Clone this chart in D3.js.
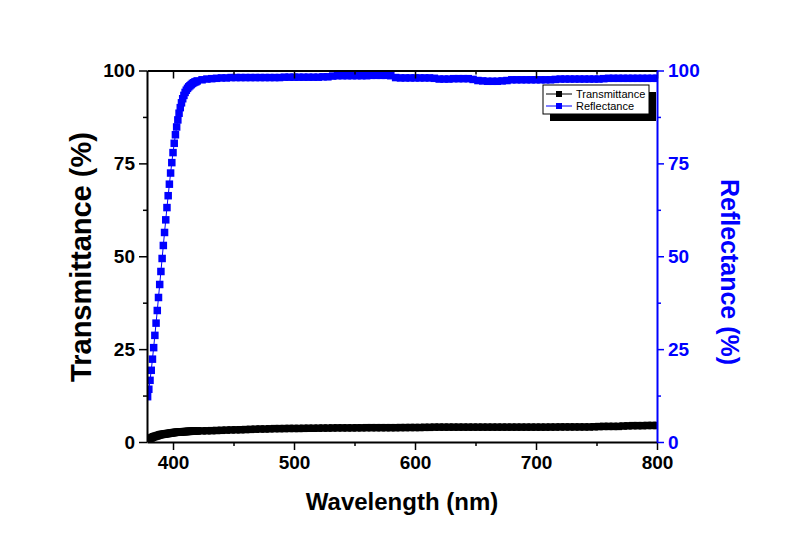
<!DOCTYPE html>
<html><head><meta charset="utf-8">
<script src="https://cdn.jsdelivr.net/npm/d3@7"></script>
<style>body{margin:0;background:#fff}svg{display:block}</style>
</head><body><svg id="c" width="799" height="535"></svg>
<script>
// ---- data ----
const wavelength = [
 379,380,381,382,383,384,385,386,387,388,389,390,391,392,393,394,395,396,397,398,
 399,400,401,402,403,404,405,406,407,408,409,410,411,412,413,414,415,416,417,418,419,420,
 424,428,432,436,440,444,448,452,456,460,
 464,468,472,476,480,484,488,492,496,500,
 504,508,512,516,520,524,528,532,536,540,
 544,548,552,556,560,564,568,572,576,580,
 584,588,592,596,600,604,608,612,616,620,
 624,628,632,636,640,644,648,652,656,660,
 664,668,672,676,680,684,688,692,696,700,
 704,708,712,716,720,724,728,732,736,740,
 744,748,752,756,760,764,768,772,776,780,
 784,788,792,796,800];
const reflectance = [
 12.2,14.2,16.6,19.3,22.3,25.4,28.7,32.0,35.4,38.9,42.4,45.9,49.4,52.9,56.4,59.8,63.1,66.3,69.4,72.4,
 75.2,77.9,80.4,82.7,84.8,86.7,88.5,90.0,91.3,92.4,93.3,94.1,94.7,95.2,95.6,95.9,96.2,96.5,96.7,96.9,97.0,97.2,
 97.5,97.7,97.8,97.9,98.0,98.0,98.1,98.1,98.1,98.1,
 98.1,98.1,98.1,98.1,98.1,98.1,98.1,98.2,98.2,98.2,
 98.2,98.2,98.2,98.2,98.2,98.3,98.3,98.5,98.6,98.6,
 98.6,98.6,98.6,98.6,98.6,98.7,98.7,98.7,98.7,98.6,
 98.1,98.0,98.0,98.0,98.0,98.0,98.0,98.0,97.9,97.7,
 97.7,97.7,97.8,97.8,97.8,97.8,97.6,97.3,97.2,97.1,
 97.1,97.1,97.2,97.3,97.5,97.5,97.5,97.5,97.5,97.5,
 97.5,97.5,97.5,97.6,97.7,97.7,97.7,97.7,97.7,97.7,
 97.7,97.7,97.7,97.8,97.9,97.9,97.9,97.9,97.9,97.9,
 97.9,97.9,97.9,97.9,97.9];
const transmittance = [
 0.6,0.8,0.95,1.1,1.25,1.4,1.5,1.6,1.7,1.8,1.9,2.0,2.05,2.1,2.15,2.2,2.25,2.3,2.35,2.4,
 2.45,2.5,2.55,2.6,2.62,2.65,2.68,2.7,2.73,2.76,2.78,2.8,2.82,2.84,2.86,2.88,2.9,2.92,2.94,2.95,2.97,2.98,
 3.0,3.02,3.05,3.1,3.15,3.2,3.25,3.28,3.3,3.35,
 3.4,3.45,3.5,3.5,3.55,3.6,3.6,3.62,3.65,3.65,
 3.65,3.68,3.7,3.7,3.72,3.75,3.75,3.78,3.8,3.8,
 3.8,3.8,3.82,3.82,3.85,3.85,3.85,3.85,3.85,3.85,
 3.85,3.88,3.88,3.9,3.9,3.9,3.95,3.95,4.0,4.0,
 4.0,4.0,4.0,4.0,4.0,4.0,4.0,4.0,4.0,4.0,
 4.0,4.0,4.0,4.0,4.0,4.0,4.0,4.0,4.0,4.0,
 4.0,4.0,4.02,4.02,4.05,4.05,4.05,4.05,4.05,4.05,
 4.05,4.1,4.15,4.2,4.2,4.2,4.2,4.3,4.35,4.4,
 4.4,4.4,4.45,4.45,4.45];
const xMajorTicks = [400,500,600,700,800];
const xMinorTicks = [450,550,650,750];
const yMajorTicks = [0,25,50,75,100];
const yMinorTicks = [12.5,37.5,62.5,87.5];
const seriesNames = ["Transmittance","Reflectance"];
const seriesColors = ["#000000","#0000ff"];
const xTitle = "Wavelength (nm)";
const yLeftTitle = "Transmittance (%)";
const yRightTitle = "Reflectance (%)";

// ---- layout ----
const L=147, R=657, T=70.5, B=442;
const FONT = "'Liberation Sans', Arial, sans-serif";
const svg = d3.select("#c");
const x = d3.scaleLinear().domain([378.5,800]).range([L,R]);
const y = d3.scaleLinear().domain([0,100]).range([B,T]);

svg.append("defs").append("clipPath").attr("id","clip")
  .append("rect").attr("x",L).attr("y",T).attr("width",R-L).attr("height",B-T);

// data
const series = [
  {name:seriesNames[0], color:seriesColors[0], values:transmittance},
  {name:seriesNames[1], color:seriesColors[1], values:reflectance}
];
const plot = svg.append("g").attr("clip-path","url(#clip)");
const line = d3.line().x((d,i)=>x(wavelength[i])).y(d=>y(d));
const MS = 7.5;
series.forEach(s=>{
  const g = plot.append("g");
  g.append("path").datum(s.values).attr("d",line).attr("fill","none")
    .attr("stroke",s.color).attr("stroke-width",1);
  g.selectAll("rect").data(s.values).join("rect")
    .attr("x",(d,i)=>x(wavelength[i])-MS/2).attr("y",d=>y(d)-MS/2)
    .attr("width",MS).attr("height",MS).attr("fill",s.color);
});

function styleAxis(g, color, w){
  g.select(".domain").attr("stroke",color).attr("stroke-width",w);
  g.selectAll(".tick line").attr("stroke",color).attr("stroke-width",1.5);
  g.selectAll(".tick text").attr("fill",color).attr("font-family",FONT)
    .attr("font-weight","bold").attr("font-size","19px");
}

// bottom axis
const gb = svg.append("g").attr("transform",`translate(0,${B})`)
  .call(d3.axisBottom(x).tickValues(xMajorTicks).tickSizeInner(8).tickSizeOuter(0).tickPadding(6));
styleAxis(gb,"#000",2);
const gbm = svg.append("g").attr("transform",`translate(0,${B})`)
  .call(d3.axisBottom(x).tickValues(xMinorTicks).tickSize(4).tickFormat(""));
gbm.select(".domain").remove(); gbm.selectAll(".tick line").attr("stroke","#000").attr("stroke-width",1.5);

// top frame with inward ticks
const gt = svg.append("g").attr("transform",`translate(0,${T})`)
  .call(d3.axisBottom(x).tickValues(xMajorTicks).tickSizeInner(8).tickSizeOuter(0).tickFormat(""));
styleAxis(gt,"#000",2);
const gtm = svg.append("g").attr("transform",`translate(0,${T})`)
  .call(d3.axisBottom(x).tickValues(xMinorTicks).tickSize(4).tickFormat(""));
gtm.select(".domain").remove(); gtm.selectAll(".tick line").attr("stroke","#000").attr("stroke-width",1.5);

// left axis
const gl = svg.append("g").attr("transform",`translate(${L},0)`)
  .call(d3.axisLeft(y).tickValues(yMajorTicks).tickSizeInner(8).tickSizeOuter(0).tickPadding(4));
styleAxis(gl,"#000",2);
const glm = svg.append("g").attr("transform",`translate(${L},0)`)
  .call(d3.axisLeft(y).tickValues(yMinorTicks).tickSize(4).tickFormat(""));
glm.select(".domain").remove(); glm.selectAll(".tick line").attr("stroke","#000").attr("stroke-width",1.5);

// right axis (blue)
const gr = svg.append("g").attr("transform",`translate(${R},0)`)
  .call(d3.axisRight(y).tickValues(yMajorTicks).tickSizeInner(7).tickSizeOuter(0).tickPadding(4));
styleAxis(gr,"#0000ff",2);
const grm = svg.append("g").attr("transform",`translate(${R},0)`)
  .call(d3.axisRight(y).tickValues(yMinorTicks).tickSize(4).tickFormat(""));
grm.select(".domain").remove(); grm.selectAll(".tick line").attr("stroke","#0000ff").attr("stroke-width",1.5);

// titles
svg.append("text").attr("x",(L+R)/2).attr("y",510).attr("text-anchor","middle")
  .attr("font-family",FONT).attr("font-weight","bold").attr("font-size","24px").text(xTitle);
svg.append("text").attr("transform",`translate(91,257) rotate(-90)`).attr("text-anchor","middle")
  .attr("font-family",FONT).attr("font-weight","bold").attr("font-size","29px").text(yLeftTitle);
svg.append("text").attr("transform",`translate(721,272) rotate(90)`).attr("text-anchor","middle")
  .attr("font-family",FONT).attr("font-weight","bold").attr("font-size","25px").attr("fill","#0000ff").text(yRightTitle);

// legend
const lx=543, ly=85, lw=106, lh=29;
const lg = svg.append("g");
lg.append("rect").attr("x",lx+7).attr("y",ly+7).attr("width",lw).attr("height",lh).attr("fill","#000");
lg.append("rect").attr("x",lx).attr("y",ly).attr("width",lw).attr("height",lh).attr("fill","#fff")
  .attr("stroke","#000").attr("stroke-width",1);
series.forEach((s,i)=>{
  const yy = ly+9+i*12;
  lg.append("line").attr("x1",lx+3).attr("x2",lx+29).attr("y1",yy).attr("y2",yy)
    .attr("stroke",s.color).attr("stroke-width",1);
  lg.append("rect").attr("x",lx+16-3).attr("y",yy-3).attr("width",6).attr("height",6).attr("fill",s.color);
  lg.append("text").attr("x",lx+33).attr("y",yy).attr("dy","0.35em")
    .attr("font-family",FONT).attr("font-size","11px").attr("fill","#000").text(s.name);
});
</script>
</body></html>
